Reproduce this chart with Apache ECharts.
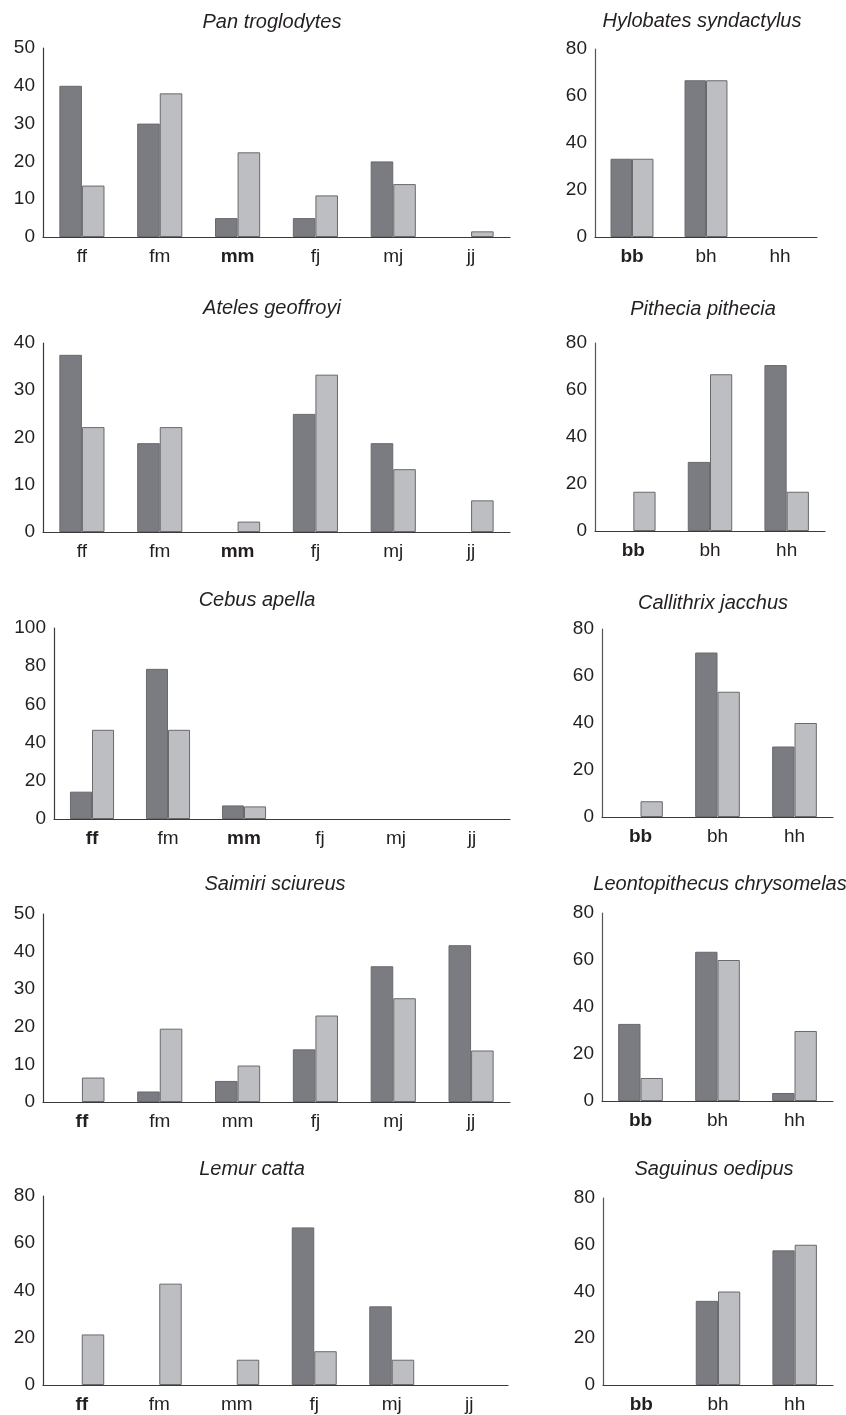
<!DOCTYPE html>
<html>
<head>
<meta charset="utf-8">
<script src="https://cdn.jsdelivr.net/npm/echarts@6/dist/echarts.min.js"></script>
<style>
html,body{margin:0;padding:0;background:#fff;}
#chart{width:846px;height:1415px;}
</style>
</head>
<body>
<div id="chart"></div>
<script>
// ---- Data ----
const leftCategories = ['ff', 'fm', 'mm', 'fj', 'mj', 'jj'];
const rightCategories = ['bb', 'bh', 'hh'];

const panTroglodytesDark  = [40, 30, 5, 5, 20, 0];
const panTroglodytesLight = [13.6, 38, 22.4, 11, 14, 1.5];
const panTroglodytesBold  = ['mm'];

const hylobatesDark  = [33.3, 66.7, 0];
const hylobatesLight = [33.3, 66.7, 0];
const hylobatesBold  = ['bb'];

const atelesDark  = [37.5, 18.8, 0, 25, 18.8, 0];
const atelesLight = [22.2, 22.2, 2.2, 33.3, 13.3, 6.7];
const atelesBold  = ['mm'];

const pitheciaDark  = [0, 29.4, 70.6];
const pitheciaLight = [16.7, 66.7, 16.7];
const pitheciaBold  = ['bb'];

const cebusDark  = [14.3, 78.6, 7.1, 0, 0, 0];
const cebusLight = [46.7, 46.7, 6.6, 0, 0, 0];
const cebusBold  = ['ff', 'mm'];

const callithrixDark  = [0, 70, 30];
const callithrixLight = [6.7, 53.3, 40];
const callithrixBold  = ['bb'];

const saimiriDark  = [0, 2.8, 5.6, 14, 36.1, 41.7];
const saimiriLight = [6.5, 19.5, 9.7, 23, 27.6, 13.7];
const saimiriBold  = ['ff'];

const leontopithecusDark  = [32.8, 63.5, 3.4];
const leontopithecusLight = [9.8, 60, 29.8];
const leontopithecusBold  = ['bb'];

const lemurDark  = [0, 0, 0, 66.7, 33.3, 0];
const lemurLight = [21.4, 42.9, 10.7, 14.3, 10.7, 0];
const lemurBold  = ['ff'];

const saguinusDark  = [0, 36, 57.6];
const saguinusLight = [0, 40, 60];
const saguinusBold  = ['bb'];

const yTicksPan = {max: 50, interval: 10};
const yTicks40  = {max: 40, interval: 10};
const yTicks80  = {max: 80, interval: 20};
const yTicks100 = {max: 100, interval: 20};

// ---- Layout ----
const panels = [
  {title: 'Pan troglodytes', cats: leftCategories, dark: panTroglodytesDark, light: panTroglodytesLight, bold: panTroglodytesBold, y: yTicksPan,
   grid: {left: 43, top: 48, width: 467, height: 189}, tpos: [272, 11]},
  {title: 'Hylobates syndactylus', cats: rightCategories, dark: hylobatesDark, light: hylobatesLight, bold: hylobatesBold, y: yTicks80,
   grid: {left: 595, top: 49, width: 222, height: 188}, tpos: [702, 10]},
  {title: 'Ateles geoffroyi', cats: leftCategories, dark: atelesDark, light: atelesLight, bold: atelesBold, y: yTicks40,
   grid: {left: 43, top: 343, width: 467, height: 189}, tpos: [272, 297]},
  {title: 'Pithecia pithecia', cats: rightCategories, dark: pitheciaDark, light: pitheciaLight, bold: pitheciaBold, y: yTicks80,
   grid: {left: 595, top: 343, width: 230, height: 188}, tpos: [703, 298]},
  {title: 'Cebus apella', cats: leftCategories, dark: cebusDark, light: cebusLight, bold: cebusBold, y: yTicks100,
   grid: {left: 54, top: 628, width: 456, height: 191}, tpos: [257, 589]},
  {title: 'Callithrix jacchus', cats: rightCategories, dark: callithrixDark, light: callithrixLight, bold: callithrixBold, y: yTicks80,
   grid: {left: 602, top: 629, width: 231, height: 188}, tpos: [713, 592]},
  {title: 'Saimiri sciureus', cats: leftCategories, dark: saimiriDark, light: saimiriLight, bold: saimiriBold, y: yTicksPan,
   grid: {left: 43, top: 914, width: 467, height: 188}, tpos: [275, 873]},
  {title: 'Leontopithecus chrysomelas', cats: rightCategories, dark: leontopithecusDark, light: leontopithecusLight, bold: leontopithecusBold, y: yTicks80,
   grid: {left: 602, top: 913, width: 231, height: 188}, tpos: [720, 873]},
  {title: 'Lemur catta', cats: leftCategories, dark: lemurDark, light: lemurLight, bold: lemurBold, y: yTicks80,
   grid: {left: 43, top: 1196, width: 465, height: 189}, tpos: [252, 1158]},
  {title: 'Saguinus oedipus', cats: rightCategories, dark: saguinusDark, light: saguinusLight, bold: saguinusBold, y: yTicks80,
   grid: {left: 603, top: 1198, width: 230, height: 187}, tpos: [714, 1158]}
];

const FONT = '"Liberation Sans", Arial, Helvetica, sans-serif';
const TEXT = '#231f20';
const DARK = '#7b7c81';
const LIGHT = '#bdbec2';
const EDGE = '#6a6a6d';
const AXIS = '#3a3a3a';

const option = {
  animation: false,
  backgroundColor: '#fff',
  title: [], grid: [], xAxis: [], yAxis: [], series: []
};

panels.forEach((p, i) => {
  option.title.push({
    text: p.title, left: p.tpos[0], top: p.tpos[1] + 1, textAlign: 'center', padding: 0,
    textStyle: {fontFamily: FONT, fontSize: 20, fontStyle: 'italic', fontWeight: 'normal', color: TEXT}
  });
  option.grid.push(Object.assign({containLabel: false}, p.grid));
  const boldSet = p.bold;
  option.xAxis.push({
    type: 'category', gridIndex: i, data: p.cats, boundaryGap: true,
    axisLine: {show: true, lineStyle: {color: AXIS, width: 1.2}},
    axisTick: {show: false},
    splitLine: {show: false},
    axisLabel: {
      interval: 0, margin: 10, fontFamily: FONT, fontSize: 19, color: TEXT,
      formatter: v => boldSet.indexOf(v) >= 0 ? '{b|' + v + '}' : v,
      rich: {b: {fontFamily: FONT, fontSize: 19, fontWeight: 'bold', color: TEXT}}
    }
  });
  option.yAxis.push({
    type: 'value', gridIndex: i, min: 0, max: p.y.max, interval: p.y.interval,
    axisLine: {show: true, lineStyle: {color: i % 2 ? '#555' : AXIS, width: 1.2}},
    axisTick: {show: false},
    splitLine: {show: false},
    axisLabel: {margin: 8, fontFamily: FONT, fontSize: 19, color: TEXT}
  });
  const mk = (arr) => arr.map(v => v === 0 ? '-' : v);
  option.series.push({
    type: 'bar', xAxisIndex: i, yAxisIndex: i, data: mk(p.dark),
    barWidth: '29%', barGap: '0%',
    itemStyle: {color: DARK, borderColor: EDGE, borderWidth: 1}
  });
  option.series.push({
    type: 'bar', xAxisIndex: i, yAxisIndex: i, data: mk(p.light),
    barWidth: '29%', barGap: '0%',
    itemStyle: {color: LIGHT, borderColor: EDGE, borderWidth: 1}
  });
});

const chart = echarts.init(document.getElementById('chart'), null, {renderer: 'canvas'});
chart.setOption(option);
</script>
</body>
</html>
